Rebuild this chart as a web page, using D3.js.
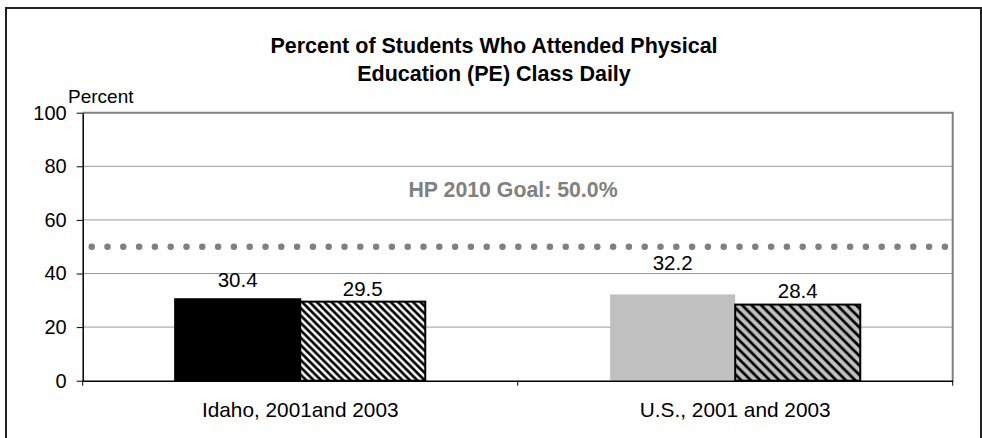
<!DOCTYPE html>
<html>
<head>
<meta charset="utf-8">
<script src="https://cdn.jsdelivr.net/npm/d3@7"></script>
<style>
  html, body { margin: 0; padding: 0; background: #fff; }
  svg { display: block; font-family: "Liberation Sans", Arial, sans-serif; }
</style>
</head>
<body>
<svg id="chart" width="982" height="438"></svg>
<script>
// Daily PE attendance, Idaho vs U.S.
const categories = ["Idaho, 2001and 2003", "U.S., 2001 and 2003"];
const years = ["2001", "2003"];
const values2001 = [30.4, 32.2];
const values2003 = [29.5, 28.4];
const yTicks = [0, 20, 40, 60, 80, 100];
const goalValue = 50.0;
const goalLabel = "HP 2010 Goal: 50.0%";
const titleLines = ["Percent of Students Who Attended Physical", "Education (PE) Class Daily"];
const yAxisTitle = "Percent";

// how far each value label sits above its bar (px), in drawing order
const labelLift = [12, 6, 24, 7];

const svg = d3.select("#chart");
const defs = svg.append("defs");

function hatch(id, bg, period, stroke) {
  const p = defs.append("pattern")
    .attr("id", id)
    .attr("patternUnits", "userSpaceOnUse")
    .attr("width", period).attr("height", period);
  p.append("rect").attr("width", period).attr("height", period).attr("fill", bg);
  // "\" diagonal stripes
  p.append("path")
    .attr("d", `M0,0 L${period},${period} M${-period},0 L${period},${2 * period} M0,${-period} L${2 * period},${period}`)
    .attr("stroke", "#000").attr("stroke-width", stroke);
}
hatch("hatchWhite", "#fff", 7.4, 2.7);
hatch("hatchGray", "#c0c0c0", 9.5, 2.7);

const plot = { left: 82.7, right: 952.7, top: 112.7, bottom: 380.7 };

const y = d3.scaleLinear().domain([0, 100]).range([plot.bottom, plot.top]);
const x0 = d3.scaleBand().domain(categories)
  .range([plot.left, plot.right])
  .paddingInner(0.425).paddingOuter(0.2125);
const x1 = d3.scaleBand().domain(years).range([0, x0.bandwidth()]);

// outer frame
svg.append("rect")
  .attr("x", 6).attr("y", 8).attr("width", 975).attr("height", 445)
  .attr("fill", "none").attr("stroke", "#222").attr("stroke-width", 2);

// title
svg.append("g").selectAll("text").data(titleLines).join("text")
  .attr("x", 494).attr("y", (d, i) => 53 + i * 28)
  .attr("text-anchor", "middle")
  .attr("font-size", 21.5).attr("font-weight", "bold")
  .text(d => d);

// gridlines
svg.append("g").selectAll("line").data(yTicks.filter(t => t > 0 && t < 100)).join("line")
  .attr("x1", plot.left).attr("x2", plot.right)
  .attr("y1", d => y(d)).attr("y2", d => y(d))
  .attr("stroke", "#9a9a9a").attr("stroke-width", 1);

// plot area border (top and right)
svg.append("path")
  .attr("d", `M${plot.left},${y(100)} H${plot.right} V${plot.bottom}`)
  .attr("fill", "none").attr("stroke", "#808080").attr("stroke-width", 2);

// bars
const bars = [];
categories.forEach((c, ci) => {
  bars.push({ cat: c, year: "2001", value: values2001[ci], idx: ci * 2 });
  bars.push({ cat: c, year: "2003", value: values2003[ci], idx: ci * 2 + 1 });
});
const fills = ["#000", "url(#hatchWhite)", "#c0c0c0", "url(#hatchGray)"];
const strokes = ["#000", "#000", "none", "#000"];

svg.append("g").selectAll("rect").data(bars).join("rect")
  .attr("x", d => x0(d.cat) + x1(d.year))
  .attr("y", d => y(d.value))
  .attr("width", x1.bandwidth())
  .attr("height", d => y(0) - y(d.value))
  .attr("fill", d => fills[d.idx])
  .attr("stroke", d => strokes[d.idx])
  .attr("stroke-width", 2);

// value labels
svg.append("g").selectAll("text").data(bars).join("text")
  .attr("x", d => x0(d.cat) + x1(d.year) + x1.bandwidth() / 2)
  .attr("y", d => y(d.value) - labelLift[d.idx])
  .attr("text-anchor", "middle")
  .attr("font-size", 20.5)
  .text(d => d.value.toFixed(1));

// goal line (dotted)
svg.append("line")
  .attr("x1", 91.7).attr("x2", 960)
  .attr("y1", y(goalValue)).attr("y2", y(goalValue))
  .attr("stroke", "#808080").attr("stroke-width", 6.5)
  .attr("stroke-linecap", "round")
  .attr("stroke-dasharray", "0 15.8");

svg.append("text")
  .attr("x", 513).attr("y", 196.5)
  .attr("text-anchor", "middle")
  .attr("font-size", 21.3).attr("font-weight", "bold")
  .attr("fill", "#808080")
  .text(goalLabel);

// y axis
const yAxis = svg.append("g")
  .attr("transform", `translate(${plot.left},0)`)
  .call(d3.axisLeft(y).tickValues(yTicks).tickSize(6).tickPadding(10).tickSizeOuter(0));
yAxis.select(".domain").attr("stroke", "#000").attr("stroke-width", 1.5);
yAxis.selectAll(".tick line").attr("stroke", "#000");
yAxis.selectAll(".tick text")
  .attr("font-size", 20).attr("fill", "#000")
  .attr("font-family", "Liberation Sans, Arial, sans-serif");

// x axis
const xAxis = svg.append("g")
  .attr("transform", `translate(0,${plot.bottom})`)
  .call(d3.axisBottom(x0).tickSize(0).tickPadding(22).tickSizeOuter(0));
xAxis.select(".domain").attr("stroke", "#000").attr("stroke-width", 1.5);
xAxis.selectAll(".tick text")
  .attr("font-size", 20.8).attr("fill", "#000")
  .attr("font-family", "Liberation Sans, Arial, sans-serif");

// small boundary ticks below the category axis
svg.append("g").selectAll("line").data([plot.left, (plot.left + plot.right) / 2, plot.right]).join("line")
  .attr("x1", d => d).attr("x2", d => d)
  .attr("y1", plot.bottom).attr("y2", plot.bottom + 5)
  .attr("stroke", "#000");

// y axis title
svg.append("text")
  .attr("x", 68).attr("y", 103)
  .attr("font-size", 19)
  .text(yAxisTitle);
</script>
</body>
</html>
